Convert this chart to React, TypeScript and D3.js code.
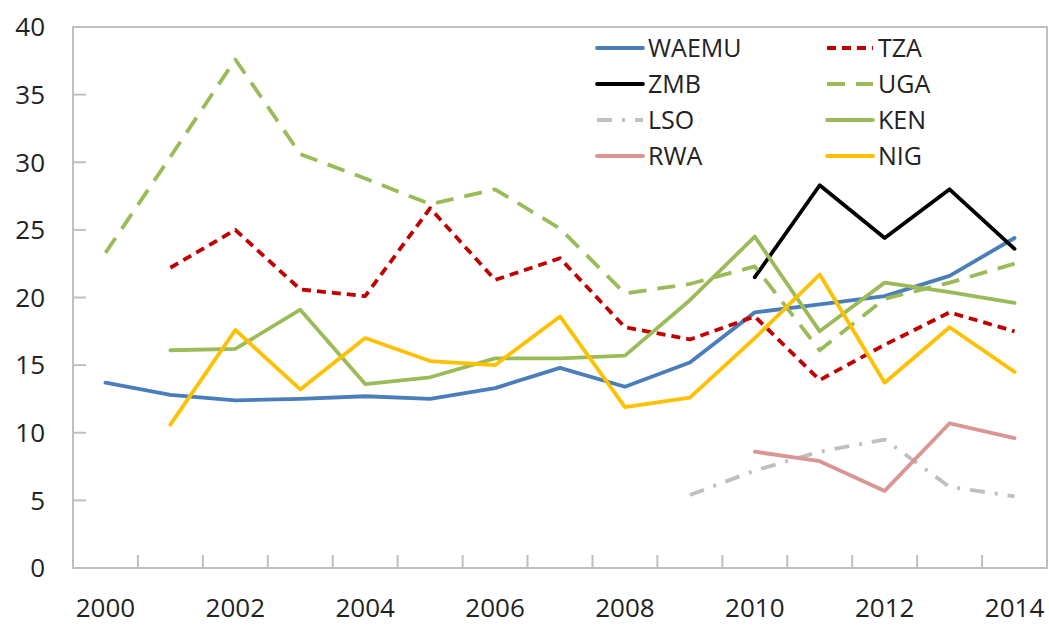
import { useEffect, useRef } from 'react';
import * as d3 from 'd3';

const years = ['2000', '2001', '2002', '2003', '2004', '2005', '2006', '2007', '2008', '2009', '2010', '2011', '2012', '2013', '2014'];
const yTicks = [0, 5, 10, 15, 20, 25, 30, 35, 40];

type V = number | null;
const waemu: V[] = [13.7, 12.8, 12.4, 12.5, 12.7, 12.5, 13.3, 14.8, 13.4, 15.2, 18.9, 19.5, 20.1, 21.6, 24.4];
const tza: V[] = [null, 22.2, 25.0, 20.6, 20.1, 26.6, 21.3, 22.9, 17.8, 16.9, 18.6, 13.9, 16.5, 18.9, 17.5];
const zmb: V[] = [null, null, null, null, null, null, null, null, null, null, 21.5, 28.3, 24.4, 28.0, 23.6];
const uga: V[] = [23.3, 30.4, 37.6, 30.6, 28.8, 26.9, 28.0, 25.1, 20.3, 21.0, 22.3, 16.1, 19.9, 21.1, 22.5];
const lso: V[] = [null, null, null, null, null, null, null, null, null, 5.4, 7.2, 8.6, 9.5, 6.0, 5.3];
const ken: V[] = [null, 16.1, 16.2, 19.1, 13.6, 14.1, 15.5, 15.5, 15.7, 19.8, 24.5, 17.5, 21.1, 20.4, 19.6];
const rwa: V[] = [null, null, null, null, null, null, null, null, null, null, 8.6, 7.9, 5.7, 10.7, 9.6];
const nig: V[] = [null, 10.6, 17.6, 13.2, 17.0, 15.3, 15.0, 18.6, 11.9, 12.6, 17.0, 21.7, 13.7, 17.8, 14.5];

const series = [
  { name: 'WAEMU', values: waemu, color: '#4a7ebb', dash: null },
  { name: 'TZA', values: tza, color: '#c00000', dash: '9,6' },
  { name: 'ZMB', values: zmb, color: '#000000', dash: null },
  { name: 'UGA', values: uga, color: '#9bbb59', dash: '18,11' },
  { name: 'LSO', values: lso, color: '#bfbfbf', dash: '15,10,3,10' },
  { name: 'KEN', values: ken, color: '#9bbb59', dash: null },
  { name: 'RWA', values: rwa, color: '#d99694', dash: null },
  { name: 'NIG', values: nig, color: '#ffc000', dash: null },
];

const W = 1049;
const H = 626;
const margin = { top: 27, right: 2, bottom: 58, left: 73 };
const font = '"Open Sans", "DejaVu Sans", sans-serif';

export default function App() {
  const ref = useRef<SVGSVGElement>(null);

  useEffect(() => {
    if (!ref.current) return;
    const svg = d3.select(ref.current);
    svg.selectAll('*').remove();

    const x = d3.scaleBand().domain(years).range([margin.left, W - margin.right]);
    const y = d3.scaleLinear().domain([0, 40]).range([H - margin.bottom, margin.top]);
    const cx = (d: string) => (x(d) || 0) + x.bandwidth() / 2;

    svg.append('rect').attr('width', W).attr('height', H).attr('fill', '#fff');

    // plot frame
    svg.append('rect')
      .attr('x', margin.left)
      .attr('y', margin.top)
      .attr('width', W - margin.right - margin.left)
      .attr('height', H - margin.bottom - margin.top)
      .attr('fill', 'none')
      .attr('stroke', '#bfbfbf')
      .attr('stroke-width', 2);

    // y ticks (inward)
    const yAxis = svg.append('g');
    yAxis.selectAll('line')
      .data(yTicks.slice(1, -1))
      .enter()
      .append('line')
      .attr('x1', margin.left)
      .attr('x2', margin.left + 13)
      .attr('y1', d => y(d))
      .attr('y2', d => y(d))
      .attr('stroke', '#bfbfbf')
      .attr('stroke-width', 2);
    yAxis.selectAll('text')
      .data(yTicks)
      .enter()
      .append('text')
      .attr('x', 45)
      .attr('y', d => y(d))
      .attr('dy', '0.36em')
      .attr('text-anchor', 'end')
      .attr('font-family', font)
      .attr('font-size', 26)
      .attr('fill', '#222')
      .text(d => d);

    // x ticks (inward, between categories)
    const xAxis = svg.append('g');
    xAxis.selectAll('line')
      .data(years.slice(1))
      .enter()
      .append('line')
      .attr('x1', d => x(d) || 0)
      .attr('x2', d => x(d) || 0)
      .attr('y1', H - margin.bottom)
      .attr('y2', H - margin.bottom - 13)
      .attr('stroke', '#bfbfbf')
      .attr('stroke-width', 2);
    xAxis.selectAll('text')
      .data(years.filter((_, i) => i % 2 === 0))
      .enter()
      .append('text')
      .attr('x', d => cx(d))
      .attr('y', 617)
      .attr('text-anchor', 'middle')
      .attr('font-family', font)
      .attr('font-size', 26)
      .attr('fill', '#222')
      .text(d => d);

    // lines
    const line = d3.line<V>()
      .defined(d => d !== null)
      .x((_, i) => cx(years[i]))
      .y(d => y(d as number));

    series.forEach(s => {
      svg.append('path')
        .datum(s.values)
        .attr('d', line)
        .attr('fill', 'none')
        .attr('stroke', s.color)
        .attr('stroke-width', 3.8)
        .attr('stroke-linejoin', 'round')
        .attr('stroke-dasharray', s.dash)
        .attr('stroke-linecap', s.dash ? 'butt' : 'round');
    });

    // legend
    const legend = svg.append('g');
    series.forEach((s, i) => {
      const col = i % 2;
      const row = Math.floor(i / 2);
      const lx = col === 0 ? 597 : 827;
      const ly = 48 + row * 36;
      legend.append('line')
        .attr('x1', lx)
        .attr('x2', lx + 46)
        .attr('y1', ly)
        .attr('y2', ly)
        .attr('stroke', s.color)
        .attr('stroke-width', 3.8)
        .attr('stroke-dasharray', s.dash)
        .attr('stroke-linecap', s.dash ? 'butt' : 'round');
      legend.append('text')
        .attr('x', lx + 51)
        .attr('y', ly)
        .attr('dy', '0.36em')
        .attr('font-family', font)
        .attr('font-size', 25)
        .attr('fill', '#222')
        .text(s.name);
    });
  }, []);

  return (
    <svg
      ref={ref}
      width={W}
      height={H}
      style={{ position: 'fixed', top: 0, left: 0, display: 'block' }}
    />
  );
}
